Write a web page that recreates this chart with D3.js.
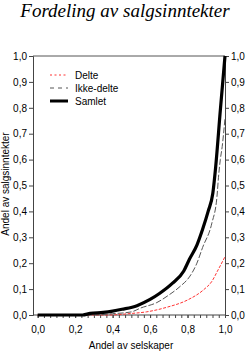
<!DOCTYPE html>
<html>
<head>
<meta charset="utf-8">
<script src="https://cdn.jsdelivr.net/npm/d3@7"></script>
<style>
  body { margin: 0; background: #fff; }
  text { font-family: "Liberation Sans", Arial, sans-serif; }
</style>
</head>
<body>
<svg id="chart" width="247" height="352"></svg>
<script>
// data (x = andel av selskaper, y = andel av salgsinntekter)
var samletX = [0, 0.24, 0.28, 0.35, 0.40, 0.45, 0.53, 0.60, 0.65, 0.72, 0.78, 0.81, 0.85, 0.88, 0.91, 0.935, 0.95, 0.975, 1.0];
var samletY = [0, 0, 0.006, 0.010, 0.015, 0.022, 0.036, 0.060, 0.083, 0.123, 0.170, 0.215, 0.270, 0.330, 0.400, 0.470, 0.570, 0.790, 1.0];
var ikkeX = [0, 0.30, 0.40, 0.50, 0.55, 0.636, 0.70, 0.76, 0.81, 0.85, 0.88, 0.93, 0.957, 0.965, 0.975, 0.985, 1.0];
var ikkeY = [0, 0, 0.005, 0.012, 0.027, 0.048, 0.077, 0.110, 0.147, 0.200, 0.260, 0.355, 0.456, 0.530, 0.600, 0.650, 0.760];
var delteX = [0, 0.38, 0.50, 0.58, 0.69, 0.80, 0.885, 0.93, 0.96, 1.0];
var delteY = [0, 0, 0.006, 0.012, 0.030, 0.058, 0.097, 0.130, 0.170, 0.225];
var xTicks = [0, 0.2, 0.4, 0.6, 0.8, 1.0];
var yTicks = [0, 0.1, 0.2, 0.3, 0.4, 0.5, 0.6, 0.7, 0.8, 0.9, 1.0];
var legendNames = ["Delte", "Ikke-delte", "Samlet"];

var svg = d3.select("#chart");
var pLeft = 33, pRight = 225, pTop = 56, pBottom = 315;

var x = d3.scaleLinear().domain([-0.025, 1]).range([pLeft, pRight]);
var y = d3.scaleLinear().domain([0, 1]).range([pBottom, pTop]);
var fmt = function(d) { return d3.format(".1f")(d).replace(".", ","); };

svg.append("text")
  .attr("x", 125).attr("y", 17)
  .attr("text-anchor", "middle")
  .style("font-family", "'Liberation Serif', 'Times New Roman', serif")
  .style("font-style", "italic")
  .style("font-size", "19px")
  .text("Fordeling av salgsinntekter");

// frame top
svg.append("line")
  .attr("x1", pLeft).attr("x2", pRight).attr("y1", pTop).attr("y2", pTop)
  .attr("stroke", "#555").attr("stroke-width", 1);

var gl = svg.append("g").attr("transform", "translate(" + pLeft + ",0)")
  .call(d3.axisLeft(y).tickValues(yTicks).tickFormat(fmt).tickSize(4).tickPadding(2));
var gr = svg.append("g").attr("transform", "translate(" + pRight + ",0)")
  .call(d3.axisRight(y).tickValues(yTicks).tickFormat(fmt).tickSize(4).tickPadding(2));
var minor = d3.range(0, 31).map(function(i) { return i / 30; });
var gb = svg.append("g").attr("transform", "translate(0," + pBottom + ")")
  .call(d3.axisBottom(x).tickValues(minor).tickFormat("").tickSize(3).tickSizeOuter(0));
var gbl = svg.append("g").attr("transform", "translate(0," + pBottom + ")")
  .call(d3.axisBottom(x).tickValues(xTicks).tickFormat(fmt).tickSize(3).tickPadding(8).tickSizeOuter(0));
gbl.select(".domain").remove();

[gl, gr, gb, gbl].forEach(function(g) {
  g.selectAll("text").style("font-size", "10px").attr("fill", "#000");
  g.selectAll("line").attr("stroke", "#444");
  g.select(".domain").attr("stroke", "#444");
});
gb.select(".domain").attr("d", "M" + pLeft + ",0H" + pRight);

function pts(xs, ys) { return xs.map(function(d, i) { return [d, ys[i]]; }); }
var line = d3.line().curve(d3.curveMonotoneX)
  .x(function(d) { return x(d[0]); }).y(function(d) { return y(d[1]); });

svg.append("path").attr("d", line(pts(delteX, delteY)))
  .attr("fill", "none").attr("stroke", "#ff3333").attr("stroke-width", 1)
  .attr("stroke-dasharray", "3,1.5");
svg.append("path").attr("d", line(pts(ikkeX, ikkeY)))
  .attr("fill", "none").attr("stroke", "#555").attr("stroke-width", 1)
  .attr("stroke-dasharray", "6,2");
svg.append("path").attr("d", line(pts(samletX, samletY)))
  .attr("fill", "none").attr("stroke", "#000").attr("stroke-width", 3.2)
  .attr("stroke-linejoin", "round");

// legend
var styles = [
  { stroke: "#ff3333", w: 1, dash: "2,2.5" },
  { stroke: "#555", w: 1, dash: "4,4" },
  { stroke: "#000", w: 3, dash: null }
];
var lg = svg.append("g");
legendNames.forEach(function(n, i) {
  var yy = 75 + i * 13;
  lg.append("line").attr("x1", 50).attr("x2", 68).attr("y1", yy).attr("y2", yy)
    .attr("stroke", styles[i].stroke).attr("stroke-width", styles[i].w)
    .attr("stroke-dasharray", styles[i].dash);
  lg.append("text").attr("x", 75).attr("y", yy).attr("dy", "0.35em")
    .style("font-size", "10px").text(n);
});

svg.append("text")
  .attr("x", 131).attr("y", 349)
  .attr("text-anchor", "middle")
  .style("font-size", "10px")
  .text("Andel av selskaper");

svg.append("text")
  .attr("transform", "translate(9,184) rotate(-90)")
  .attr("text-anchor", "middle")
  .style("font-size", "10px")
  .text("Andel av salgsinntekter");
</script>
</body>
</html>
